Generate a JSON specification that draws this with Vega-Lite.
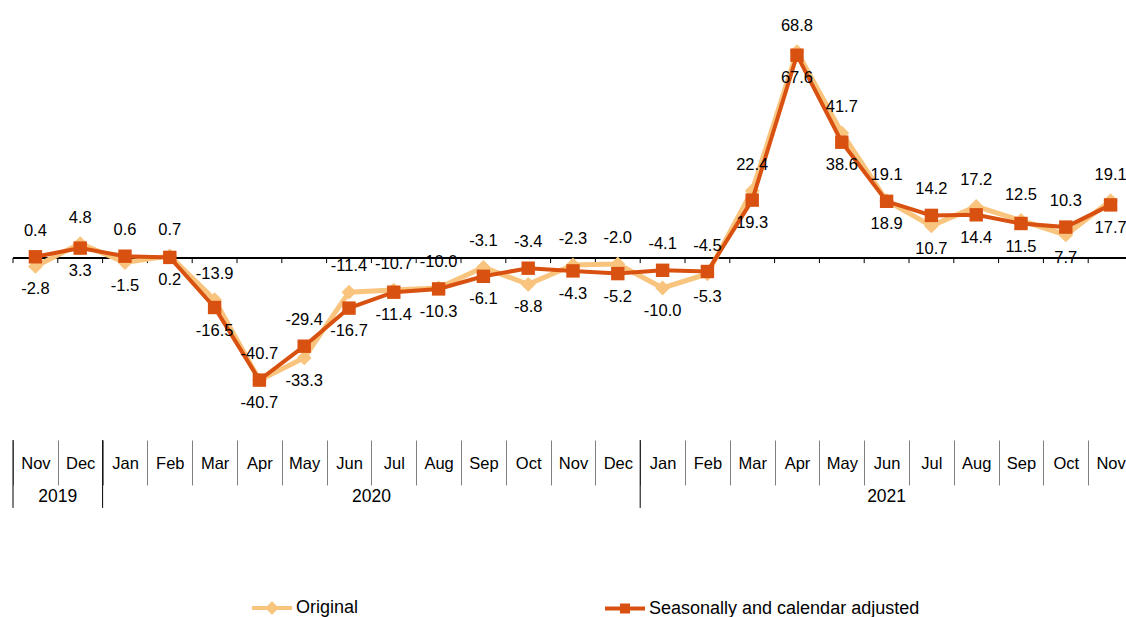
{
  "$schema": "https://vega.github.io/schema/vega-lite/v6.json",
  "width": 1120,
  "height": 420,
  "autosize": {"type": "none"},
  "padding": {"left": 13, "top": 18, "right": 0, "bottom": 179},
  "background": "white",
  "config": {
    "view": {"stroke": null},
    "font": "Liberation Sans",
    "locale": {"number": {"decimal": ".", "thousands": ",", "grouping": [3], "currency": ["", ""], "minus": "-"}}
  },
  "datasets": {
    "months": [
      {"period": "Nov 2019", "year": "2019", "Original": -2.8, "Seasonally and calendar adjusted": 0.4},
      {"period": "Dec 2019", "year": "2019", "Original": 4.8, "Seasonally and calendar adjusted": 3.3},
      {"period": "Jan 2020", "year": "2020", "Original": -1.5, "Seasonally and calendar adjusted": 0.6},
      {"period": "Feb 2020", "year": "2020", "Original": 0.7, "Seasonally and calendar adjusted": 0.2},
      {"period": "Mar 2020", "year": "2020", "Original": -13.9, "Seasonally and calendar adjusted": -16.5},
      {"period": "Apr 2020", "year": "2020", "Original": -40.7, "Seasonally and calendar adjusted": -40.7},
      {"period": "May 2020", "year": "2020", "Original": -33.3, "Seasonally and calendar adjusted": -29.4},
      {"period": "Jun 2020", "year": "2020", "Original": -11.4, "Seasonally and calendar adjusted": -16.7},
      {"period": "Jul 2020", "year": "2020", "Original": -10.7, "Seasonally and calendar adjusted": -11.4},
      {"period": "Aug 2020", "year": "2020", "Original": -10.0, "Seasonally and calendar adjusted": -10.3},
      {"period": "Sep 2020", "year": "2020", "Original": -3.1, "Seasonally and calendar adjusted": -6.1},
      {"period": "Oct 2020", "year": "2020", "Original": -8.8, "Seasonally and calendar adjusted": -3.4},
      {"period": "Nov 2020", "year": "2020", "Original": -2.3, "Seasonally and calendar adjusted": -4.3},
      {"period": "Dec 2020", "year": "2020", "Original": -2.0, "Seasonally and calendar adjusted": -5.2},
      {"period": "Jan 2021", "year": "2021", "Original": -10.0, "Seasonally and calendar adjusted": -4.1},
      {"period": "Feb 2021", "year": "2021", "Original": -5.3, "Seasonally and calendar adjusted": -4.5},
      {"period": "Mar 2021", "year": "2021", "Original": 22.4, "Seasonally and calendar adjusted": 19.3},
      {"period": "Apr 2021", "year": "2021", "Original": 68.8, "Seasonally and calendar adjusted": 67.6},
      {"period": "May 2021", "year": "2021", "Original": 41.7, "Seasonally and calendar adjusted": 38.6},
      {"period": "Jun 2021", "year": "2021", "Original": 19.1, "Seasonally and calendar adjusted": 18.9},
      {"period": "Jul 2021", "year": "2021", "Original": 10.7, "Seasonally and calendar adjusted": 14.2},
      {"period": "Aug 2021", "year": "2021", "Original": 17.2, "Seasonally and calendar adjusted": 14.4},
      {"period": "Sep 2021", "year": "2021", "Original": 12.5, "Seasonally and calendar adjusted": 11.5},
      {"period": "Oct 2021", "year": "2021", "Original": 7.7, "Seasonally and calendar adjusted": 10.3},
      {"period": "Nov 2021", "year": "2021", "Original": 19.1, "Seasonally and calendar adjusted": 17.7}
    ]
  },
  "resolve": {"scale": {"x": "independent"}},
  "layer": [
    {
      "data": {"name": "months"},
      "transform": [
        {"fold": ["Original", "Seasonally and calendar adjusted"], "as": ["series", "value"]}
      ],
      "layer": [
        {
          "mark": {"type": "rule", "color": "black", "strokeWidth": 1},
          "encoding": {
            "y": {"datum": 0, "type": "quantitative", "scale": {"domain": [-60, 80], "nice": false, "zero": false}, "axis": null}
          }
        },
        {
          "transform": [{"filter": "datum.series === 'Original'"}],
          "mark": {"type": "rule", "color": "black", "strokeWidth": 1},
          "encoding": {
            "x": {"field": "period", "type": "nominal", "bandPosition": 0, "sort": null,
              "scale": {"domain": ["Nov 2019","Dec 2019","Jan 2020","Feb 2020","Mar 2020","Apr 2020","May 2020","Jun 2020","Jul 2020","Aug 2020","Sep 2020","Oct 2020","Nov 2020","Dec 2020","Jan 2021","Feb 2021","Mar 2021","Apr 2021","May 2021","Jun 2021","Jul 2021","Aug 2021","Sep 2021","Oct 2021","Nov 2021"], "paddingInner": 0, "paddingOuter": 0},
              "axis": {"orient": "bottom", "offset": 2, "domain": false, "ticks": true, "tickBand": "extent", "tickSize": 45, "tickColor": "#808080", "tickWidth": 1, "labelPadding": -22, "labelBaseline": "middle", "labelFontSize": 16.5, "labelColor": "black", "labelFont": "Liberation Sans", "labelAngle": 0, "labelExpr": "split(datum.label, ' ')[0]", "title": null, "grid": false, "labelOverlap": false, "labelFlush": false}},
            "y": {"datum": 0, "type": "quantitative"},
            "y2": {"datum": -1.7}
          }
        },
        {
          "transform": [{"filter": "datum.series === 'Original'"}],
          "mark": {"type": "line", "strokeWidth": 5},
          "encoding": {
            "x": {"field": "period", "type": "nominal", "sort": null},
            "y": {"field": "value", "type": "quantitative"},
            "color": {"field": "series", "type": "nominal",
              "scale": {"domain": ["Original", "Seasonally and calendar adjusted"], "range": ["#F8C47E", "#D95110"]},
              "legend": {"orient": "none", "legendX": 237, "legendY": 568, "direction": "horizontal", "title": null,
                "symbolSize": 1600, "labelFontSize": 18, "labelFont": "Liberation Sans", "labelColor": "black", "labelOffset": 2, "columnPadding": 238, "labelLimit": 500,
                "encode": {"symbols": {"update": {
                  "shape": {"signal": "datum.value === 'Original' ? 'M-1,0H1M0,-0.2L0.2,0L0,0.2L-0.2,0Z' : 'M-1,0H1M-0.15,-0.15H0.15V0.15H-0.15Z'"},
                  "fill": {"scale": "color", "field": "value"},
                  "stroke": {"scale": "color", "field": "value"},
                  "strokeWidth": {"value": 4},
                  "opacity": {"value": 1}
                }}}}}
          }
        },
        {
          "transform": [{"filter": "datum.series === 'Original'"}],
          "mark": {"type": "point", "shape": "diamond", "filled": true, "size": 220, "opacity": 1},
          "encoding": {
            "x": {"field": "period", "type": "nominal", "sort": null},
            "y": {"field": "value", "type": "quantitative"},
            "color": {"field": "series", "type": "nominal"}
          }
        },
        {
          "transform": [{"filter": "datum.series !== 'Original'"}],
          "mark": {"type": "line", "strokeWidth": 4},
          "encoding": {
            "x": {"field": "period", "type": "nominal", "sort": null},
            "y": {"field": "value", "type": "quantitative"},
            "color": {"field": "series", "type": "nominal"}
          }
        },
        {
          "transform": [{"filter": "datum.series !== 'Original'"}],
          "mark": {"type": "point", "shape": "square", "filled": true, "size": 180, "opacity": 1},
          "encoding": {
            "x": {"field": "period", "type": "nominal", "sort": null},
            "y": {"field": "value", "type": "quantitative"},
            "color": {"field": "series", "type": "nominal"}
          }
        },
        {
          "transform": [
            {"window": [{"op": "row_number", "as": "rank"}], "groupby": ["period"], "sort": [{"field": "value", "order": "descending"}]},
            {"filter": "datum.rank === 1"}
          ],
          "mark": {"type": "text", "fontSize": 16.5, "color": "black", "dy": -26, "baseline": "middle"},
          "encoding": {
            "x": {"field": "period", "type": "nominal", "sort": null},
            "y": {"field": "value", "type": "quantitative"},
            "text": {"field": "value", "type": "quantitative", "format": ".1f"}
          }
        },
        {
          "transform": [
            {"window": [{"op": "row_number", "as": "rank"}], "groupby": ["period"], "sort": [{"field": "value", "order": "descending"}]},
            {"filter": "datum.rank === 2"}
          ],
          "mark": {"type": "text", "fontSize": 16.5, "color": "black", "dy": 23, "baseline": "middle"},
          "encoding": {
            "x": {"field": "period", "type": "nominal", "sort": null},
            "y": {"field": "value", "type": "quantitative"},
            "text": {"field": "value", "type": "quantitative", "format": ".1f"}
          }
        }
      ]
    },
    {
      "data": {"name": "months"},
      "transform": [
        {"window": [{"op": "row_number", "as": "idx"}]},
        {"aggregate": [{"op": "min", "field": "idx", "as": "first"}, {"op": "count", "as": "n"}], "groupby": ["year"]},
        {"calculate": "datum.first - 1", "as": "start"},
        {"calculate": "datum.first - 1 + datum.n / 2", "as": "mid"}
      ],
      "layer": [
        {
          "mark": {"type": "rule", "color": "black", "strokeWidth": 1},
          "encoding": {
            "x": {"field": "start", "type": "quantitative", "scale": {"domain": [0, 25], "nice": false, "zero": false}, "axis": null},
            "y": {"datum": -60.67, "type": "quantitative"},
            "y2": {"datum": -83.3}
          }
        },
        {
          "mark": {"type": "text", "fontSize": 17.5, "color": "black", "baseline": "middle"},
          "encoding": {
            "x": {"field": "mid", "type": "quantitative", "axis": null},
            "y": {"datum": -79.7, "type": "quantitative"},
            "text": {"field": "year", "type": "nominal"}
          }
        }
      ]
    }
  ]
}
